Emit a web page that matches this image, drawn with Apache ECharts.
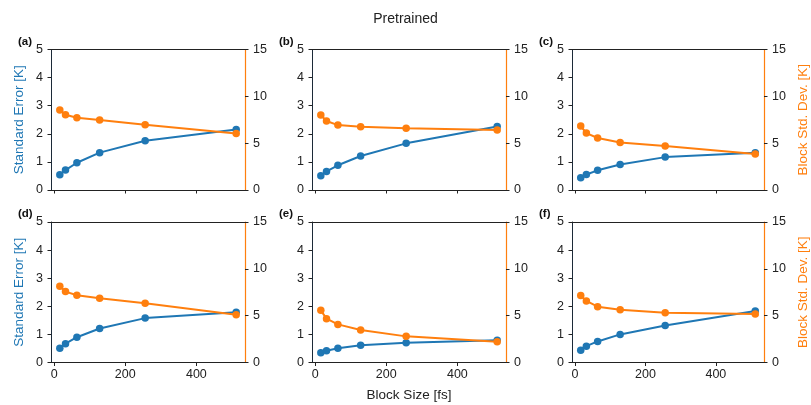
<!DOCTYPE html>
<html>
<head>
<meta charset="utf-8">
<script src="https://cdn.jsdelivr.net/npm/echarts@6/dist/echarts.min.js"></script>
<style>
  html, body { margin: 0; padding: 0; background: #fff; }
  #chart { width: 811px; height: 405px; }
</style>
</head>
<body>
<div id="chart"></div>
<script>
// Block sizes in femtoseconds (shared x values)
const blockSizes = [16, 32, 64, 128, 256, 512];

// Standard error [K] per panel (left axis)
const stdErrA = [0.54, 0.71, 0.97, 1.33, 1.75, 2.15];
const stdErrB = [0.51, 0.66, 0.88, 1.21, 1.66, 2.26];
const stdErrC = [0.44, 0.55, 0.70, 0.91, 1.17, 1.33];
const stdErrD = [0.51, 0.67, 0.90, 1.21, 1.58, 1.79];
const stdErrE = [0.35, 0.42, 0.51, 0.61, 0.70, 0.79];
const stdErrF = [0.44, 0.58, 0.75, 1.00, 1.32, 1.83];

// Block standard deviation [K] per panel (right axis)
const blockStdA = [8.53, 8.03, 7.71, 7.47, 6.97, 6.04];
const blockStdB = [8.00, 7.36, 6.93, 6.75, 6.58, 6.40];
const blockStdC = [6.83, 6.08, 5.55, 5.08, 4.69, 3.84];
const blockStdD = [8.14, 7.57, 7.18, 6.86, 6.32, 5.11];
const blockStdE = [5.57, 4.68, 4.07, 3.46, 2.79, 2.21];
const blockStdF = [7.14, 6.57, 5.96, 5.64, 5.32, 5.18];

// Axis ticks
const xTicks = [0, 200, 400];
const panelLabels = ['(a)', '(b)', '(c)', '(d)', '(e)', '(f)'];

const stdErrs = [stdErrA, stdErrB, stdErrC, stdErrD, stdErrE, stdErrF];
const blockStds = [blockStdA, blockStdB, blockStdC, blockStdD, blockStdE, blockStdF];

const BLUE = '#1f77b4';
const ORANGE = '#ff7f0e';
const FONT = 'Liberation Sans, Arial, sans-serif';

const colLefts = [51, 312, 572];
const rowTops = [49.5, 222];
const plotW = 194;
const plotH = 140.5;

const grids = [], xAxes = [], yAxes = [], series = [], graphics = [];

for (let i = 0; i < 6; i++) {
  const row = Math.floor(i / 3), col = i % 3;
  const left = colLefts[col], top = rowTops[row];
  grids.push({ left: left, top: top, width: plotW, height: plotH });
  // bottom axis with ticks
  xAxes.push({
    gridIndex: i, type: 'value', position: 'bottom', min: -8.8, max: 536.8,
    name: (i === 4) ? 'Block Size [fs]' : '',
    nameLocation: 'middle', nameGap: 26,
    nameTextStyle: { fontFamily: FONT, fontSize: 13.5, color: '#222' },
    axisLine: { show: true, onZero: false, lineStyle: { color: '#222', width: 1 } },
    axisTick: { show: true, length: 3.5, customValues: xTicks, lineStyle: { color: '#222' } },
    axisLabel: { show: row === 1, customValues: xTicks, margin: 6,
      fontFamily: FONT, fontSize: 12.5, color: '#222' },
    splitLine: { show: false }
  });
  // top frame line
  xAxes.push({
    gridIndex: i, type: 'value', position: 'top', min: -8.8, max: 536.8,
    axisLine: { show: true, onZero: false, lineStyle: { color: '#222', width: 1 } },
    axisTick: { show: false }, axisLabel: { show: false }, splitLine: { show: false }
  });
  yAxes.push({
    gridIndex: i, type: 'value', position: 'left', min: 0, max: 5, interval: 1,
    name: (col === 0) ? 'Standard Error [K]' : '',
    nameLocation: 'middle', nameGap: 25,
    nameTextStyle: { fontFamily: FONT, fontSize: 13.5, color: BLUE },
    axisLine: { show: true, onZero: false, lineStyle: { color: '#1c2a38', width: 1 } },
    axisTick: { show: true, length: 3.5, lineStyle: { color: '#222' } },
    axisLabel: { margin: 8, fontFamily: FONT, fontSize: 12.5, color: '#222' },
    splitLine: { show: false }
  });
  yAxes.push({
    gridIndex: i, type: 'value', position: 'right', min: 0, max: 15, interval: 5,
    name: (col === 2) ? 'Block Std. Dev. [K]' : '',
    nameLocation: 'middle', nameGap: 32,
    nameTextStyle: { fontFamily: FONT, fontSize: 13.5, color: ORANGE },
    axisLine: { show: true, onZero: false, lineStyle: { color: ORANGE, width: 1.2 } },
    axisTick: { show: true, length: 3.5, lineStyle: { color: '#222' } },
    axisLabel: { margin: 8, fontFamily: FONT, fontSize: 12.5, color: '#222' },
    splitLine: { show: false }
  });
  series.push({
    type: 'line', xAxisIndex: 2 * i, yAxisIndex: 2 * i,
    data: blockSizes.map((x, k) => [x, stdErrs[i][k]]),
    color: BLUE, lineStyle: { width: 2, color: BLUE },
    symbol: 'circle', symbolSize: 7.5, itemStyle: { color: BLUE },
    showSymbol: true, animation: false, z: 3
  });
  series.push({
    type: 'line', xAxisIndex: 2 * i, yAxisIndex: 2 * i + 1,
    data: blockSizes.map((x, k) => [x, blockStds[i][k]]),
    color: ORANGE, lineStyle: { width: 2, color: ORANGE },
    symbol: 'circle', symbolSize: 7.5, itemStyle: { color: ORANGE },
    showSymbol: true, animation: false, z: 4
  });
  graphics.push({
    type: 'text', left: left - 33, top: top - 14,
    style: { text: panelLabels[i], fontFamily: FONT, fontSize: 11.5,
      fontWeight: 'bold', fill: '#111' }
  });
}

const chart = echarts.init(document.getElementById('chart'), null, { renderer: 'canvas' });
chart.setOption({
  backgroundColor: '#fff',
  animation: false,
  title: {
    text: 'Pretrained', left: 'center', top: 7,
    textStyle: { fontFamily: FONT, fontSize: 14, fontWeight: 'normal', color: '#222' }
  },
  grid: grids,
  xAxis: xAxes,
  yAxis: yAxes,
  series: series,
  graphic: graphics
});
</script>
</body>
</html>
